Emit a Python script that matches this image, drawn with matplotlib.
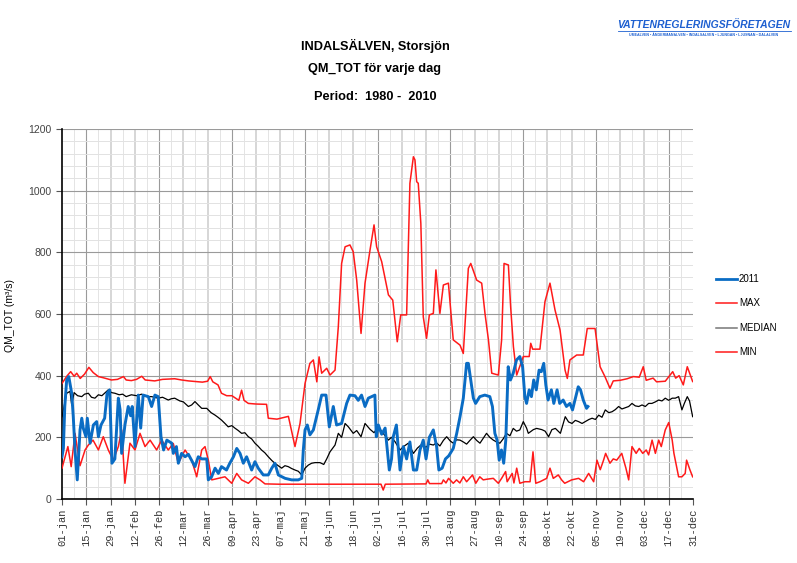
import matplotlib
matplotlib.use("Agg")
import matplotlib.pyplot as plt
import numpy as np

# ---------------- data (day of year 0 = 01-jan, value m3/s) ----------------
max_days = [0, 3, 5, 7, 8.5, 10.5, 13, 15.5, 18, 21, 24, 28.5, 32, 35.5, 37, 40, 43, 46, 48, 53.5, 58, 65, 69, 73,
            77, 81, 84, 85.5, 87, 90, 92, 95, 98, 102, 103.6, 105, 107.5, 112, 118, 119, 124, 130.6, 134.4, 137.3,
            140.2, 143, 145, 147, 148.3, 149.8, 152.7, 154.6, 157.5, 159.4, 161.3, 163.3, 166.1, 168, 170, 172.5,
            174.8, 177.7, 180, 181.5, 184.4, 188.3, 190.8, 193.4, 195.4, 198.8, 200.7, 202.7, 203.6, 204.6, 205.5,
            207, 208.4, 210.3, 211.9, 214.2, 215.7, 218, 220, 222.9, 225.7, 229.6, 231.5, 234.4, 235.8, 239.2,
            242.1, 244, 246, 247.9, 251.7, 253.6, 255, 257.5, 258.8, 260.4, 262.3, 266.1, 269.5, 270.4, 271.5,
            275.7, 278.6, 281.5, 284.4, 287.3, 290.2, 291.5, 293, 296.9, 300.7, 303, 307.5, 310.4, 313.2, 316.1,
            318, 322, 326, 329.6, 333, 335.3, 337, 341, 343, 348, 352.3, 354, 356, 358.4, 360.7, 363.8]
max_vals = [375, 400, 413, 398, 408, 391, 405, 427, 410, 397, 393, 386, 388, 397, 386, 384, 388, 398, 386, 383, 388,
            390, 386, 383, 381, 379, 382, 397, 380, 370, 343, 335, 335, 320, 353, 320, 310, 308, 307, 262, 259, 268,
            170, 245, 375, 440, 451, 380, 461, 408, 424, 402, 418, 559, 764, 818, 824, 802, 710, 537, 700, 808, 889,
            818, 770, 662, 645, 510, 597, 597, 1024, 1110, 1100, 1029, 1024, 894, 591, 521, 597, 602, 743, 602, 694,
            700, 516, 499, 472, 748, 764, 710, 700, 602, 516, 408, 402, 516, 764, 759, 624, 494, 402, 462, 462, 505,
            486, 486, 640, 700, 613, 548, 418, 391, 451, 467, 467, 553, 553, 429, 397, 359, 383, 385, 390, 397, 395,
            429, 385, 392, 380, 382, 413, 392, 400, 370, 429, 381]

med_days = [0, 2.7, 4.6, 5.6, 7, 9, 11.4, 13, 15.2, 17, 19, 21, 23, 26.7, 28.6, 30.5, 33, 35, 37, 40, 43, 46, 49,
            51.7, 55.5, 58, 61.3, 63, 65, 68, 70, 72.9, 74.8, 76.7, 78.6, 80.6, 83.5, 86, 88.3, 90, 92, 94, 95.9, 98,
            99.7, 101.7, 103.6, 105.5, 107.5, 109.4, 111.3, 113, 115.1, 117, 119, 121, 122.8, 124.7, 126.7, 128.6,
            130.5, 132.4, 134.4, 136.3, 138.3, 140.2, 142.1, 144, 146, 148.8, 151, 152.7, 154.6, 157.5, 159.4, 161.3,
            163.3, 165.2, 168, 170, 172.5, 174.8, 177.7, 180, 182.4, 185.3, 188.3, 190, 192.1, 195, 197, 199.8,
            202.7, 205, 207, 210, 212, 214.2, 216, 218, 220, 221.9, 224, 225.7, 227.6, 229.6, 231.5, 233.4, 235.3,
            237.3, 239.2, 241.1, 244.9, 246.8, 248.8, 250.7, 252.6, 254.5, 256.4, 258.4, 260.3, 262.2, 264.1, 266.1,
            268, 269, 271.9, 273.8, 276.8, 278.7, 280.7, 282.6, 284.6, 287.5, 290.3, 292.2, 294.2, 296.1, 298, 300,
            301.9, 304, 305.8, 307.7, 309.6, 311.5, 313.4, 315.4, 317.3, 319.2, 321.1, 323, 325, 326.9, 328.8,
            330.7, 332.7, 334.6, 336.5, 338.4, 340.3, 342.3, 344.2, 346.1, 348, 350, 352, 353.8, 355.7, 357.6, 359,
            360.7, 362, 363.8]
med_vals = [267, 343, 349, 305, 345, 335, 332, 340, 343, 330, 327, 338, 335, 354, 345, 343, 338, 340, 332, 338, 335,
            340, 332, 332, 327, 330, 321, 325, 327, 318, 315, 300, 305, 316, 305, 294, 294, 280, 272, 265, 256, 245,
            234, 238, 230, 222, 213, 215, 202, 195, 181, 172, 159, 150, 137, 125, 116, 108, 100, 108, 105, 99, 94, 90,
            78, 100, 110, 116, 118, 118, 112, 130, 153, 175, 213, 200, 245, 234, 213, 222, 202, 245, 226, 215, 234,
            213, 191, 200, 186, 159, 170, 181, 148, 165, 175, 168, 178, 175, 182, 172, 190, 202, 188, 181, 192, 191,
            185, 178, 190, 202, 190, 181, 213, 200, 191, 185, 181, 195, 213, 205, 229, 220, 224, 251, 230, 213, 225,
            229, 225, 220, 202, 225, 229, 213, 267, 250, 245, 255, 251, 245, 251, 258, 262, 258, 272, 265, 289, 280,
            283, 290, 300, 292, 296, 300, 310, 302, 300, 305, 300, 310, 310, 315, 321, 318, 327, 320, 327, 327, 332,
            289, 310, 332, 318, 267]

min_days = [0, 3.4, 5.3, 7.5, 10.4, 13.3, 15.2, 17.9, 21, 23.8, 26.7, 29.6, 32.5, 34.4, 36.3, 39.2, 42.1, 45, 47.9,
            50.8, 54.6, 57.5, 61.3, 64.2, 67.1, 71, 74.8, 77.7, 80.6, 82.5, 84.4, 86.4, 90.2, 94, 97.9, 100.8, 103.6,
            107.5, 111.3, 114.2, 117.1, 125, 140, 160, 180, 184, 185.3, 186.5, 210, 211, 212, 219, 220, 221.5, 223,
            225.7, 227.6, 229.5, 231.5, 233.4, 236.8, 238.7, 241, 243, 244.9, 248.8, 251.7, 253.6, 255.9, 256.8,
            259.7, 260.7, 262.3, 264.1, 267, 270, 271.7, 273.3, 275.7, 279.6, 281.5, 283.4, 286.3, 288.2, 290, 294,
            298, 300.9, 303.8, 306.7, 308.6, 310.5, 312.4, 313.6, 316.1, 318, 320, 322.9, 325.3, 326.9, 328.8,
            331.2, 333, 335, 337, 338.4, 340.4, 342.3, 344.2, 345.7, 348, 350, 352, 353, 355.7, 357.6, 359.5, 360.3,
            362.2, 363.8]
min_vals = [100, 170, 105, 213, 108, 159, 175, 191, 159, 202, 159, 126, 170, 224, 51, 181, 159, 213, 170, 191, 159,
            191, 159, 180, 116, 159, 126, 72, 159, 170, 126, 62, 67, 72, 51, 83, 62, 51, 72, 62, 49, 48, 48, 48, 48,
            48, 29, 48, 49, 62, 50, 50, 62, 52, 67, 51, 62, 52, 72, 56, 78, 51, 72, 62, 64, 67, 51, 67, 89, 56, 83,
            52, 100, 51, 56, 56, 153, 51, 56, 67, 100, 67, 78, 62, 51, 62, 67, 56, 83, 56, 126, 95, 126, 148, 116,
            130, 126, 148, 100, 62, 170, 148, 164, 148, 159, 143, 191, 148, 191, 170, 224, 248, 191, 148, 72, 72, 83,
            126, 95, 72]

y2011_days = [0, 0.8, 1.6, 2.7, 3.9, 5.6, 6.5, 7.5, 8.8, 10.4, 11.4, 12.3, 13.8, 14.6, 16.2, 18.1, 20, 21, 22.5, 24.6,
              26, 27.5, 28.8, 30.5, 32.5, 33.5, 34.4, 36.3, 38.2, 39.6, 40.5, 42.1, 44, 45.4, 46.8, 49.8, 51.7, 53.6,
              55.5, 57.1, 58.6, 60.5, 63.3, 64.2, 66, 67.1, 69, 71, 72.9, 76.7, 78.6, 80.6, 83.5, 84.4, 86.3, 88.3,
              90.2, 92, 94.9, 96.8, 98.9, 100.8, 102.7, 104.6, 106.5, 109.4, 111.3, 113.2, 116.1, 119, 121, 122.8,
              124.8, 128.7, 132.5, 136.3, 138.3, 139.2, 140.2, 141.5, 143, 145, 147.8, 149.8, 152.3, 154.2, 156.5,
              158.4, 161.3, 164.2, 166.1, 169, 170.9, 172.8, 174.8, 176.7, 178.6, 180.5, 181.3, 182.5, 184.4, 186.4,
              188.8, 190.1, 191, 192.9, 195, 196.9, 198.8, 200.7, 202.7, 204.6, 206.5, 208.4, 210, 211.9, 214.2,
              216.1, 217.4, 219.3, 221.2, 223.1, 225.7, 227.7, 229.6, 231.5, 233.4, 234.4, 237.3, 238.6, 241, 243.9,
              246.8, 248.3, 249.7, 251, 252.2, 253.5, 254.8, 256, 257.4, 258.7, 260.3, 262.2, 264.1, 265.7, 267, 268,
              269.5, 270.8, 272.1, 273.6, 275.2, 276.5, 277.9, 279.1, 280.4, 282.3, 283.7, 285.6, 287.1, 289.1, 291,
              293, 294.5, 296.4, 297.8, 299.1, 300.7, 302.6, 303.4]
y2011_vals = [137, 164, 300, 386, 397, 343, 267, 159, 62, 224, 262, 229, 202, 262, 181, 240, 251, 202, 240, 262, 343,
              354, 116, 130, 327, 290, 148, 240, 300, 270, 300, 170, 337, 230, 337, 332, 300, 337, 332, 202, 159, 191,
              181, 148, 170, 116, 148, 137, 145, 105, 137, 130, 130, 62, 72, 100, 83, 105, 94, 116, 137, 164, 148, 116,
              137, 94, 121, 100, 78, 78, 100, 116, 78, 67, 62, 62, 67, 159, 224, 240, 208, 224, 289, 337, 337, 234,
              300, 240, 245, 310, 337, 335, 320, 337, 300, 327, 332, 337, 202, 240, 210, 230, 94, 130, 200, 240, 94,
              170, 130, 185, 94, 94, 159, 191, 130, 200, 224, 170, 94, 100, 130, 140, 164, 213, 267, 327, 440, 440,
              327, 310, 332, 337, 332, 300, 213, 191, 126, 159, 116, 191, 429, 386, 408, 451, 462, 429, 332, 310, 354,
              332, 386, 354, 418, 413, 440, 370, 321, 354, 310, 354, 310, 321, 300, 310, 289, 332, 364, 354, 321, 294,
              300]

tick_days = list(range(0, 365, 14))
tick_labels = ["01-jan", "15-jan", "29-jan", "12-feb", "26-feb", "12-mar", "26-mar", "09-apr", "23-apr",
               "07-maj", "21-maj", "04-jun", "18-jun", "02-jul", "16-jul", "30-jul", "13-aug", "27-aug",
               "10-sep", "24-sep", "08-okt", "22-okt", "05-nov", "19-nov", "03-dec", "17-dec", "31-dec"]
y_ticks = [0, 200, 400, 600, 800, 1000, 1200]

# ---------------- figure ----------------
W, H = 797, 563
fig = plt.figure(figsize=(W / 100, H / 100), dpi=100)
fig.patch.set_facecolor("white")
ax = fig.add_axes([62 / W, (H - 499) / H, (693 - 62) / W, (499 - 129) / H])
ax.set_xlim(0, 364)
ax.set_ylim(0, 1200)

# grid
for d in range(7, 364, 14):
    ax.axvline(d, color="#e4e4e4", lw=0.7, zorder=0)
for d in range(14, 364, 14):
    if d % 42 == 14:
        ax.axvline(d, color="#9a9a9a", lw=0.8, zorder=0)
    else:
        ax.axvline(d, color="#d6d6d6", lw=1.4, zorder=0)
for v in range(40, 1200, 40):
    if v % 200 != 0:
        ax.axhline(v, color="#e2e2e2", lw=0.7, zorder=0)
for v in range(200, 1201, 200):
    ax.axhline(v, color="#9a9a9a", lw=0.8, zorder=0)

ax.plot(min_days, min_vals, color="#ff1a1a", lw=1.1, zorder=3)
ax.plot(max_days, max_vals, color="#ff1a1a", lw=1.1, zorder=3)
ax.plot(med_days, med_vals, color="black", lw=0.9, zorder=4)
ax.plot(y2011_days, y2011_vals, color="#0a6cc4", lw=2.1, zorder=5)

for s in ["top", "right"]:
    ax.spines[s].set_visible(False)
ax.spines["left"].set_linewidth(1.2)
ax.spines["bottom"].set_linewidth(1.2)

ax.set_yticks(y_ticks)
ax.set_yticklabels([str(v) for v in y_ticks], fontsize=7.5, color="#444444", family="Liberation Sans")
ax.set_xticks(tick_days)
ax.set_xticklabels(tick_labels, rotation=90, fontsize=7.5, family="Liberation Mono", color="#333333")
ax.tick_params(axis="both", length=4, width=0.8, color="#555555")
ax.tick_params(axis="x", pad=3)

fig.text(10 / W, 1 - 315 / H, "QM_TOT (m³/s)", rotation=90, ha="center", va="center",
         fontsize=7.5, family="Liberation Sans")

# titles
for ty, txt in [(46, "INDALSÄLVEN, Storsjön"), (69, "QM_TOT för varje dag"), (97, "Period:  1980 -  2010")]:
    fig.text(375 / W, 1 - ty / H, txt, ha="center", va="center", fontsize=9.2, fontweight="bold",
             family="Liberation Sans")

# legend
leg = [("2011", "#0a6cc4", 2.0), ("MAX", "#ff1a1a", 1.1), ("MEDIAN", "#777777", 1.1), ("MIN", "#ff1a1a", 1.1)]
for i, (lab, col, lw) in enumerate(leg):
    yy = 1 - (279 + i * 24.3) / H
    fig.add_artist(plt.Line2D([716 / W, 737 / W], [yy, yy], color=col, lw=lw, transform=fig.transFigure))
    fig.text(739 / W, yy, lab, ha="left", va="center", fontsize=7, family="Liberation Sans")

# logo
fig.text(704 / W, 1 - 25 / H, "VATTENREGLERINGSFÖRETAGEN", ha="center", va="center", fontsize=7.5,
         fontweight="bold", style="italic", color="#1d5fd0", family="Liberation Sans")
fig.add_artist(plt.Line2D([618 / W, 791 / W], [1 - 31 / H, 1 - 31 / H], color="#1d5fd0", lw=0.6,
                          transform=fig.transFigure))
fig.text(704 / W, 1 - 35 / H, "UMEÄLVEN • ÅNGERMANÄLVEN • INDALSÄLVEN • LJUNGAN • LJUSNAN • DALÄLVEN",
         ha="center", va="center", fontsize=2.6, color="#1d5fd0", family="Liberation Sans", fontweight="bold")

fig.savefig("out.png", dpi=100, facecolor="white")
